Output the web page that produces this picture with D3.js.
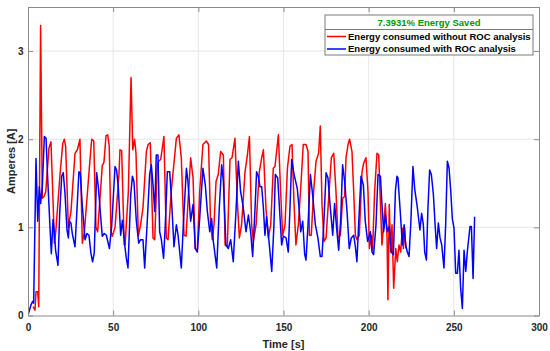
<!DOCTYPE html>
<html>
<head>
<meta charset="utf-8">
<script src="https://cdn.jsdelivr.net/npm/d3@7"></script>
<style>
  html, body { margin: 0; padding: 0; background: #fff; }
  svg { display: block; font-family: "Liberation Sans", Arial, sans-serif; }
</style>
</head>
<body>
<svg id="chart" width="550" height="351"></svg>
<script>
// ---- data ----
const xTicks = [0, 50, 100, 150, 200, 250, 300];
const yTicks = [0, 1, 2, 3];
const legendTitle = "7.3931% Energy Saved";
const seriesNames = ["Energy consumed without ROC analysis", "Energy consumed with ROC analysis"];

const redT = [3.0,4.1,4.7,5.7,6.3,7.4,8.4,9.4,10.4,12.3,13.5,14.7,15.5,16.3,18.8,20.4,21.3,22.1,23.7,24.5,25.2,27.6,29.0,30.5,31.9,33.1,36.4,37.4,38.6,39.9,40.9,43.6,44.6,45.8,46.8,47.7,48.7,49.5,51.1,53.4,54.0,55.0,56.5,57.0,58.9,60.5,61.5,62.6,63.4,64.8,66.1,67.5,69.5,70.5,71.8,73.4,74.4,75.9,76.7,77.9,79.8,81.2,82.2,84.1,87.1,88.6,90.0,91.6,92.8,94.3,95.5,96.9,98.2,99.4,100.8,102.7,104.7,106.0,107.2,108.2,109.2,110.4,111.7,113.1,114.7,115.7,117.0,118.6,119.8,121.5,122.9,124.1,125.4,127.4,128.8,130.0,131.3,132.3,133.9,135.8,137.2,138.2,139.7,141.1,142.5,144.0,145.0,147.0,148.3,149.5,150.9,152.3,153.8,155.0,156.2,157.3,158.7,160.1,161.6,163.2,164.4,165.2,166.3,167.7,169.1,170.6,171.6,172.6,173.8,175.0,176.5,178.1,179.5,180.8,182.0,183.4,184.7,185.9,186.7,187.9,188.8,190.2,191.2,192.2,193.1,194.5,196.1,197.1,198.4,199.6,200.4,201.6,202.3,203.5,204.9,205.9,207.0,207.8,208.8,209.8,210.8,211.3,212.1,212.9,213.7,214.7,215.9,216.8,217.8,218.8,219.8,220.4,221.1,221.9];
const redV = [0.10,0.06,0.27,0.27,0.10,3.29,1.33,1.35,1.40,1.90,1.97,1.30,0.82,0.95,1.60,1.95,2.00,1.92,1.00,1.10,1.17,1.84,1.88,2.00,0.82,0.95,1.77,2.00,1.98,1.00,0.95,1.70,1.74,2.04,2.05,1.92,0.95,0.90,1.00,1.60,1.88,1.87,0.80,0.80,1.40,2.70,1.88,2.00,1.84,0.90,1.03,1.22,1.86,1.94,1.96,0.88,0.86,1.71,1.75,1.77,2.03,0.88,0.86,1.41,2.01,2.05,1.79,0.91,0.90,1.41,1.79,1.56,0.76,0.74,1.41,1.94,1.98,1.94,1.03,0.86,1.03,1.52,1.60,1.86,1.82,0.80,0.78,1.77,1.79,2.01,1.29,0.88,1.03,1.63,1.82,2.03,1.03,0.84,1.03,1.63,1.79,1.88,1.22,0.88,1.03,1.67,1.69,2.05,1.41,0.91,1.03,1.67,1.92,1.94,1.26,0.80,1.03,1.44,1.94,1.94,1.86,0.91,0.91,1.41,1.75,1.84,2.15,1.26,0.84,0.88,1.33,1.79,1.84,1.41,0.88,0.91,1.33,1.35,1.79,1.94,2.00,1.86,1.41,0.91,0.86,0.91,1.63,1.73,1.79,1.41,0.76,0.91,0.74,1.41,1.84,1.82,1.22,0.80,1.03,1.27,0.88,0.18,1.26,0.72,1.03,0.31,0.76,0.61,0.80,0.72,0.99,0.76,0.99,0.76];

const blueT = [0.2,1.76,2.74,3.33,4.7,5.7,6.65,7.4,8.4,9.6,10.6,11.5,12.9,13.7,14.7,15.5,16.2,17.6,18.6,19.8,20.7,21.7,22.9,23.7,24.3,25.2,26.0,27.6,29.9,30.7,31.9,33.5,34.6,35.8,36.9,37.9,38.9,40.3,41.3,42.5,43.6,44.8,46.0,47.8,49.1,51.1,52.0,53.0,54.4,55.4,56.8,57.7,58.7,60.3,61.3,62.2,63.6,65.0,66.1,67.5,68.5,70.1,71.4,72.4,73.4,74.4,75.3,76.3,77.3,78.3,79.6,80.6,81.8,83.2,84.1,85.7,87.1,88.1,90.0,91.2,93.0,93.9,95.5,96.9,98.2,99.4,100.8,102.7,104.1,105.3,106.7,107.8,108.8,110.8,112.3,113.7,114.7,116.2,117.6,119.0,120.5,122.1,123.5,124.8,126.4,128.0,129.4,130.7,131.9,133.3,134.2,135.2,136.2,137.2,138.2,139.1,140.1,141.5,143.1,144.4,145.2,146.6,148.0,148.9,149.9,151.5,152.8,153.8,154.8,156.2,158.1,159.3,160.1,161.3,162.4,163.2,164.4,165.8,167.1,168.7,170.2,171.6,172.6,173.8,175.0,176.1,177.5,178.9,180.0,181.2,182.4,183.6,184.7,185.9,187.3,188.6,189.8,191.2,192.2,193.1,194.1,195.5,196.9,198.0,199.4,201.0,202.0,202.9,204.3,205.5,206.9,207.8,208.8,209.8,211.0,212.1,213.3,214.5,215.7,216.6,217.2,218.4,219.8,220.8,221.7,222.7,223.7,224.7,226.0,227.0,228.6,230.1,231.1,232.1,232.9,233.9,234.8,235.8,236.8,238.0,239.0,239.9,240.9,241.9,242.9,244.2,245.2,246.2,247.2,248.2,249.1,250.1,251.1,252.1,253.0,254.0,255.0,256.0,257.0,257.9,259.5,260.3,261.3,262.2];
const blueV = [0.02,0.12,0.16,0.14,1.78,1.07,1.46,1.27,1.46,2.03,2.01,1.58,1.01,0.70,1.09,0.93,0.74,0.57,1.16,1.58,1.62,1.39,0.97,0.88,1.07,1.05,0.93,0.78,1.63,1.62,1.24,0.86,0.93,0.91,0.71,0.61,0.71,1.62,1.46,1.16,0.90,0.93,0.91,0.76,1.01,1.69,1.65,1.46,0.91,1.08,0.80,0.65,0.54,1.37,1.58,1.52,1.07,0.82,0.86,0.86,0.54,1.10,1.60,1.71,1.48,1.18,1.82,1.82,0.95,0.86,0.65,1.03,1.63,1.63,1.37,0.78,1.03,0.91,0.54,1.03,1.67,1.52,1.07,1.26,0.76,0.72,1.10,1.67,1.48,1.18,0.95,1.10,0.84,0.54,1.22,1.71,1.52,0.80,0.76,0.86,0.61,1.18,1.75,1.41,1.22,0.95,1.14,0.95,0.67,1.22,1.63,1.58,1.46,1.46,1.22,0.91,1.12,0.84,0.50,1.03,1.60,1.56,1.10,0.80,0.90,0.88,0.72,1.22,1.77,1.60,1.44,1.18,0.95,1.07,0.70,0.63,1.03,1.60,1.37,1.03,0.88,0.67,0.67,1.10,1.62,1.56,1.22,0.91,1.27,0.99,0.74,1.10,1.71,1.52,1.18,0.76,0.88,0.91,0.78,0.61,1.03,1.58,1.48,1.07,0.84,0.95,0.72,0.69,1.03,1.60,1.58,1.26,0.95,1.14,0.95,1.01,0.72,0.69,1.41,1.58,1.56,1.22,0.80,1.03,0.80,0.72,0.67,1.03,1.69,1.44,1.22,0.97,1.16,1.03,0.72,0.63,1.22,1.65,1.60,1.37,1.03,0.76,1.05,0.88,0.80,0.54,1.03,1.75,1.67,1.41,1.10,0.99,0.48,0.48,0.74,0.31,0.08,0.74,0.50,0.72,1.01,1.01,0.42,1.12];

// ---- layout ----
const svg = d3.select("#chart");
const L = 28, R = 539, T = 7, B = 315.5;
const x = d3.scaleLinear().domain([0, 300]).range([L, R]);
const y = d3.scaleLinear().domain([0, 3.5]).range([B, T]);
const axisColor = "#8a8a8a";
const textColor = "#262626";

// grid
const g = svg.append("g");
g.selectAll("line.gx").data(xTicks.slice(1, -1)).join("line")
  .attr("x1", d => x(d)).attr("x2", d => x(d)).attr("y1", T).attr("y2", B)
  .attr("stroke", "#e6e6e6").attr("stroke-width", 1);
g.selectAll("line.gy").data(yTicks.slice(1)).join("line")
  .attr("x1", L).attr("x2", R).attr("y1", d => y(d)).attr("y2", d => y(d))
  .attr("stroke", "#e6e6e6").attr("stroke-width", 1);

// clip
svg.append("clipPath").attr("id", "clip").append("rect")
  .attr("x", L).attr("y", T).attr("width", R - L).attr("height", B - T);

const line = d3.line().x(d => x(d[0])).y(d => y(d[1]));
const redData = redT.map((t, i) => [t, redV[i]]);
const blueData = blueT.map((t, i) => [t, blueV[i]]);

svg.append("path").datum(redData).attr("d", line).attr("fill", "none")
  .attr("stroke", "#ff0000").attr("stroke-width", 1.5).attr("stroke-linejoin", "round")
  .attr("clip-path", "url(#clip)");
svg.append("path").datum(blueData).attr("d", line).attr("fill", "none")
  .attr("stroke", "#0000ff").attr("stroke-width", 1.5).attr("stroke-linejoin", "round")
  .attr("clip-path", "url(#clip)");

// axes (box with inward ticks)
const fmt = d3.format("d");
const xb = svg.append("g").attr("transform", `translate(0,${B})`)
  .call(d3.axisBottom(x).tickValues(xTicks).tickFormat(fmt).tickSizeInner(-5).tickSizeOuter(0).tickPadding(8.5));
const xt = svg.append("g").attr("transform", `translate(0,${T})`)
  .call(d3.axisTop(x).tickValues(xTicks).tickFormat("").tickSizeInner(-5).tickSizeOuter(0));
const yl = svg.append("g").attr("transform", `translate(${L},0)`)
  .call(d3.axisLeft(y).tickValues(yTicks).tickFormat(fmt).tickSizeInner(-5).tickSizeOuter(0).tickPadding(4.5));
const yr = svg.append("g").attr("transform", `translate(${R},0)`)
  .call(d3.axisRight(y).tickValues(yTicks).tickFormat("").tickSizeInner(-5).tickSizeOuter(0));
[xb, xt, yl, yr].forEach(a => {
  a.select(".domain").attr("stroke", axisColor).attr("stroke-width", 1);
  a.selectAll(".tick line").attr("stroke", axisColor);
  a.selectAll(".tick text").attr("fill", textColor).attr("font-size", 10)
    .attr("font-weight", "bold").attr("font-family", "Liberation Sans, Arial, sans-serif");
});

// axis labels
svg.append("text").attr("x", (L + R) / 2).attr("y", 347.5).attr("text-anchor", "middle")
  .attr("font-size", 11).attr("font-weight", "bold").attr("fill", textColor).text("Time [s]");
svg.append("text").attr("transform", `translate(14.5,${(T + B) / 2}) rotate(-90)`)
  .attr("text-anchor", "middle").attr("font-size", 11).attr("font-weight", "bold")
  .attr("fill", textColor).text("Amperes [A]");

// legend
const lg = svg.append("g");
const lx0 = 325, lx1 = 533, ly0 = 15, ly1 = 55, lsep = 29.5;
lg.append("rect").attr("x", lx0).attr("y", ly0).attr("width", lx1 - lx0).attr("height", ly1 - ly0)
  .attr("fill", "#fff").attr("stroke", "#7a7a7a").attr("stroke-width", 1);
lg.append("line").attr("x1", lx0).attr("x2", lx1).attr("y1", lsep).attr("y2", lsep)
  .attr("stroke", "#7a7a7a").attr("stroke-width", 1);
lg.append("text").attr("x", (lx0 + lx1) / 2).attr("y", 26).attr("text-anchor", "middle")
  .attr("font-size", 9.5).attr("font-weight", "bold").attr("fill", "#009900").text(legendTitle);
const colors = ["#ff0000", "#0000ff"];
const rowsY = [36.5, 49];
seriesNames.forEach((n, i) => {
  lg.append("line").attr("x1", 327).attr("x2", 346).attr("y1", rowsY[i]).attr("y2", rowsY[i])
    .attr("stroke", colors[i]).attr("stroke-width", 1.5);
  lg.append("text").attr("x", 348).attr("y", rowsY[i] + 3.4).attr("font-size", 9.5)
    .attr("font-weight", "bold").attr("fill", "#000").text(n);
});
</script>
</body>
</html>
